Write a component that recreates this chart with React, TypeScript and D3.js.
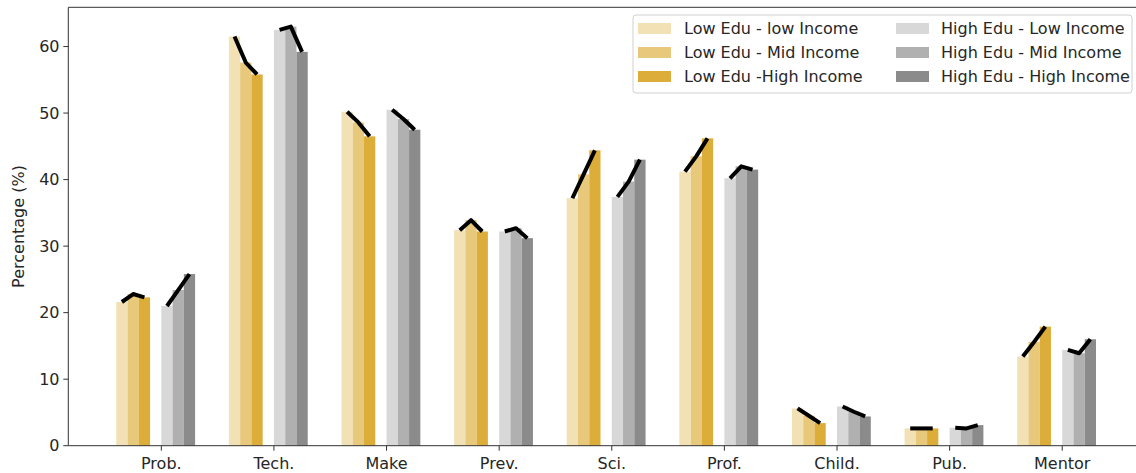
import React from "react";
import * as d3 from "d3";

const categories = ["Prob.", "Tech.", "Make", "Prev.", "Sci.", "Prof.", "Child.", "Pub.", "Mentor"];
const lowEduLowInc = [21.6, 61.5, 50.2, 32.4, 37.2, 41.2, 5.6, 2.6, 13.4];
const lowEduMidInc = [22.8, 57.6, 48.6, 33.9, 40.8, 43.5, 4.5, 2.6, 15.6];
const lowEduHighInc = [22.3, 55.8, 46.5, 32.2, 44.4, 46.2, 3.4, 2.6, 17.9];
const highEduLowInc = [21.0, 62.5, 50.5, 32.2, 37.4, 40.2, 5.9, 2.7, 14.4];
const highEduMidInc = [23.4, 63.0, 49.1, 32.7, 39.7, 42.0, 5.1, 2.6, 13.9];
const highEduHighInc = [25.8, 59.2, 47.5, 31.2, 43.0, 41.5, 4.4, 3.1, 16.0];
const yTicks = [0, 10, 20, 30, 40, 50, 60];

const seriesNames = [
  "Low Edu - low Income",
  "Low Edu - Mid Income",
  "Low Edu -High Income",
  "High Edu - Low Income",
  "High Edu - Mid Income",
  "High Edu - High Income",
];
const seriesValues = [lowEduLowInc, lowEduMidInc, lowEduHighInc, highEduLowInc, highEduMidInc, highEduHighInc];
const seriesColors = ["#f2e1b4", "#e8c87a", "#dcad39", "#d8d8d8", "#b0b0b0", "#8b8b8b"];
const seriesOffsets = [-0.35, -0.25, -0.15, 0.05, 0.15, 0.25];
const barWidth = 0.1;

const W = 1136;
const H = 473;
const FONT = "'DejaVu Sans', sans-serif";
const FS = 16;

export default function App() {
  const x = d3.scaleLinear().domain([-0.826, 8.735]).range([68.3, 1145]);
  const y = d3.scaleLinear().domain([0, 65.9]).range([445.7, 7.3]);
  const bw = x(barWidth) - x(0);
  const line = d3
    .line<[number, number]>()
    .x((d) => x(d[0]))
    .y((d) => y(d[1]));

  const groups = [
    [0, 1, 2],
    [3, 4, 5],
  ];

  const legendRows = [0, 1, 2];
  const legendCols = [
    { patchX: 638, textX: 684, series: [0, 1, 2] },
    { patchX: 896, textX: 941, series: [3, 4, 5] },
  ];
  const rowY = [28.5, 52.5, 76.5];

  return (
    <svg
      width={W}
      height={H}
      style={{ position: "absolute", left: 0, top: 0, background: "#fff" }}
      fontFamily={FONT}
    >
      <rect x={0} y={0} width={W} height={H} fill="#fff" />
      {/* bars */}
      {seriesValues.map((vals, s) =>
        vals.map((v, i) => {
          const x0 = x(i + seriesOffsets[s] - barWidth / 2);
          return (
            <rect
              key={`b${s}-${i}`}
              x={x0}
              y={y(v)}
              width={bw}
              height={y(0) - y(v)}
              fill={seriesColors[s]}
            />
          );
        })
      )}
      {/* lines over bar tops */}
      {categories.map((_, i) =>
        groups.map((g, gi) => (
          <path
            key={`l${i}-${gi}`}
            d={line(g.map((s) => [i + seriesOffsets[s], seriesValues[s][i]] as [number, number])) || ""}
            fill="none"
            stroke="#000"
            strokeWidth={4}
            strokeLinejoin="round"
            strokeLinecap="butt"
          />
        ))
      )}
      {/* axes frame */}
      <line x1={68.3} x2={W} y1={7.3} y2={7.3} stroke="#333" strokeWidth={1} />
      <line x1={68.3} x2={W} y1={445.7} y2={445.7} stroke="#333" strokeWidth={1} />
      <line x1={68.3} x2={68.3} y1={7.3} y2={445.7} stroke="#333" strokeWidth={1} />
      {/* y ticks */}
      {yTicks.map((t) => (
        <g key={`yt${t}`}>
          <line x1={63.3} x2={68.3} y1={y(t)} y2={y(t)} stroke="#333" />
          <text x={59.5} y={y(t)} dy="0.35em" textAnchor="end" fontSize={FS} fill="#262626">
            {t}
          </text>
        </g>
      ))}
      {/* x ticks */}
      {categories.map((c, i) => (
        <g key={`xt${c}`}>
          <line x1={x(i)} x2={x(i)} y1={445.7} y2={450.7} stroke="#333" />
          <text x={x(i)} y={469} textAnchor="middle" fontSize={FS} fill="#262626">
            {c}
          </text>
        </g>
      ))}
      {/* y label */}
      <text
        transform={`translate(24, ${(7.3 + 445.7) / 2}) rotate(-90)`}
        textAnchor="middle"
        fontSize={FS}
        fill="#262626"
      >
        Percentage (%)
      </text>
      {/* legend */}
      <rect x={633} y={15} width={499} height={78} rx={3} fill="#fff" fillOpacity={0.85} stroke="#d0d0d0" />
      {legendCols.map((col, ci) =>
        legendRows.map((r) => {
          const s = col.series[r];
          return (
            <g key={`lg${ci}-${r}`}>
              <rect x={col.patchX} y={rowY[r] - 5.5} width={33} height={11} fill={seriesColors[s]} />
              <text x={col.textX} y={rowY[r]} dy="0.35em" fontSize={FS} fill="#262626">
                {seriesNames[s]}
              </text>
            </g>
          );
        })
      )}
    </svg>
  );
}
